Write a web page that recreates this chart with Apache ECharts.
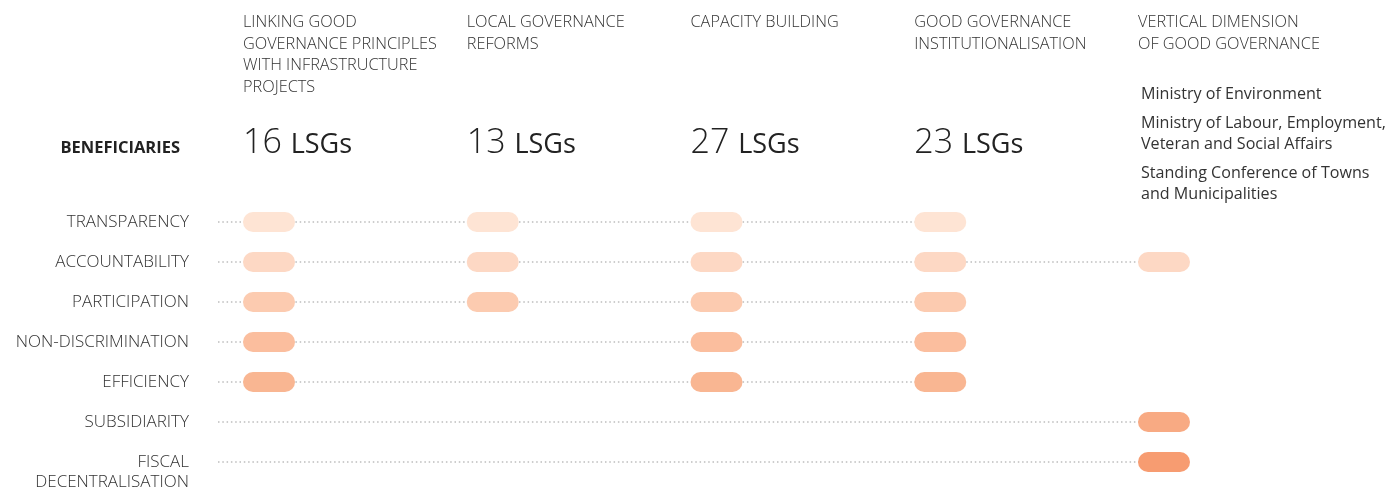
<!DOCTYPE html>
<html>
<head>
<meta charset="utf-8">
<script src="https://cdn.jsdelivr.net/npm/echarts@6/dist/echarts.min.js"></script>
<style>
    html, body { margin: 0; padding: 0; background: #fff; }
    #chart { width: 1397px; height: 489px; }
</style>
</head>
<body>
<div id="chart"></div>
<script>
// Programme components (columns)
const columns = [
    'LINKING GOOD\nGOVERNANCE PRINCIPLES\nWITH INFRASTRUCTURE\nPROJECTS',
    'LOCAL GOVERNANCE\nREFORMS',
    'CAPACITY BUILDING',
    'GOOD GOVERNANCE\nINSTITUTIONALISATION',
    'VERTICAL DIMENSION\nOF GOOD GOVERNANCE'
];

// Beneficiaries per component (null = listed institutions instead)
const lsgCounts = [16, 13, 27, 23, null];
const ministries = [
    'Ministry of Environment',
    'Ministry of Labour, Employment,\nVeteran and Social Affairs',
    'Standing Conference of Towns\nand Municipalities'
];

// Good governance principles (rows)
const principles = [
    'TRANSPARENCY',
    'ACCOUNTABILITY',
    'PARTICIPATION',
    'NON-DISCRIMINATION',
    'EFFICIENCY',
    'SUBSIDIARITY',
    'FISCAL\nDECENTRALISATION'
];

// 1 = principle addressed by the component
const coverage = [
    [1, 1, 1, 1, 0],
    [1, 1, 1, 1, 1],
    [1, 1, 1, 1, 0],
    [1, 0, 1, 1, 0],
    [1, 0, 1, 1, 0],
    [0, 0, 0, 0, 1],
    [0, 0, 0, 0, 1]
];

const pillColors = ['#fee4d4', '#fdd8c4', '#fccbb0', '#fbbe9e', '#f9b692', '#f8aa83', '#f79c71'];
const FONT = '"Open Sans", "Noto Sans", sans-serif';
const PILL_W = 52;
const PILL_H = 20;

const pillData = [];
const lineData = [];
coverage.forEach((row, r) => {
    row.forEach((v, c) => {
        if (v) pillData.push([c, r]);
    });
    lineData.push([row.lastIndexOf(1), r]);
});

const chart = echarts.init(document.getElementById('chart'));

chart.setOption({
    backgroundColor: '#fff',
    animation: false,
    grid: {
        left: 269,
        right: 233,
        top: 202,
        bottom: 7,
        outerBoundsMode: 'none'
    },
    xAxis: {
        type: 'category',
        data: columns,
        boundaryGap: false,
        axisLine: { show: false },
        axisTick: { show: false },
        axisLabel: { show: false },
        splitLine: { show: false }
    },
    yAxis: {
        type: 'category',
        data: principles,
        inverse: true,
        axisLine: { show: false },
        axisTick: { show: false },
        splitLine: { show: false },
        axisLabel: {
            margin: 80,
            fontSize: 17,
            lineHeight: 20,
            color: '#333',
            fontFamily: FONT,
            fontWeight: 300,
            // keep first line of a two-line label on the row
            formatter: v => v.indexOf('\n') >= 0 ? ' \n' + v : v
        }
    },
    graphic: [{
        type: 'text',
        x: 180,
        y: 148,
        style: {
            text: 'BENEFICIARIES',
            fill: '#222',
            font: 'bold 16.5px ' + FONT,
            align: 'right',
            verticalAlign: 'middle'
        }
    }],
    series: [
        {
            // dotted guide lines
            type: 'custom',
            clip: false,
            silent: true,
            data: lineData,
            renderItem(params, api) {
                const start = api.coord([0, api.value(1)]);
                const end = api.coord([api.value(0), api.value(1)]);
                return {
                    type: 'line',
                    shape: { x1: start[0] - 51, y1: start[1], x2: end[0], y2: end[1] },
                    style: { stroke: '#bdbdbd', lineWidth: 1.5, lineDash: [1.5, 2.8] }
                };
            }
        },
        {
            // principle pills
            type: 'custom',
            clip: false,
            silent: true,
            data: pillData,
            renderItem(params, api) {
                const p = api.coord([api.value(0), api.value(1)]);
                return {
                    type: 'rect',
                    shape: { x: p[0] - PILL_W / 2, y: p[1] - PILL_H / 2, width: PILL_W, height: PILL_H, r: PILL_H / 2 },
                    style: { fill: pillColors[api.value(1)] }
                };
            }
        },
        {
            // column headers and beneficiaries
            type: 'custom',
            clip: false,
            silent: true,
            data: columns.map((_, i) => [i, 0]),
            renderItem(params, api) {
                const i = api.value(0);
                const x = api.coord([i, 0])[0] - PILL_W / 2;
                const children = [{
                    type: 'text',
                    x: x,
                    y: 12,
                    style: {
                        text: columns[i],
                        fill: '#333',
                        fontSize: 16.3,
                        fontWeight: 300,
                        fontFamily: FONT,
                        lineHeight: 21.5,
                        align: 'left',
                        verticalAlign: 'top'
                    }
                }];
                if (lsgCounts[i] != null) {
                    children.push({
                        type: 'text',
                        x: x,
                        y: 143,
                        style: {
                            text: '{n|' + lsgCounts[i] + '}{s| }{u|LSGs}',
                            align: 'left',
                            verticalAlign: 'middle',
                            rich: {
                                n: { fontSize: 34, fontWeight: 300, fontFamily: FONT, fill: '#222', verticalAlign: 'bottom' },
                                s: { fontSize: 34, fontFamily: FONT, verticalAlign: 'bottom' },
                                u: { fontSize: 27, fontFamily: FONT, fill: '#222', verticalAlign: 'bottom', padding: [0, 0, 1, 0] }
                            }
                        }
                    });
                } else {
                    let y = 84;
                    ministries.forEach(m => {
                        children.push({
                            type: 'text',
                            x: x + 3,
                            y: y,
                            style: {
                                text: m,
                                fill: '#333',
                                fontSize: 16.1,
                                fontFamily: FONT,
                                lineHeight: 21,
                                align: 'left',
                                verticalAlign: 'top'
                            }
                        });
                        y += m.split('\n').length * 21 + 8;
                    });
                }
                return { type: 'group', children: children };
            }
        }
    ]
});
</script>
</body>
</html>
